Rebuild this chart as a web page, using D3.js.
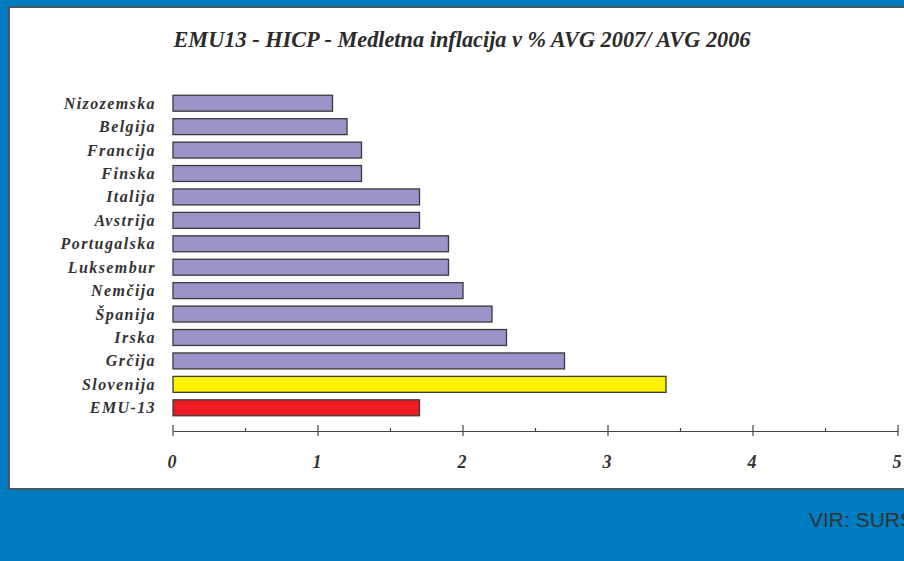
<!DOCTYPE html>
<html>
<head>
<meta charset="utf-8">
<script src="https://d3js.org/d3.v7.min.js"></script>
<style>
  html, body { margin: 0; padding: 0; background: #007cc3; }
  svg { display: block; }
</style>
</head>
<body>
<div id="chart"></div>
<script>
// Podatki: države in medletna inflacija (%)
const countries = ["Nizozemska", "Belgija", "Francija", "Finska", "Italija", "Avstrija",
  "Portugalska", "Luksembur", "Nemčija", "Španija", "Irska", "Grčija", "Slovenija", "EMU-13"];
const values = [1.1, 1.2, 1.3, 1.3, 1.7, 1.7, 1.9, 1.9, 2.0, 2.2, 2.3, 2.7, 3.4, 1.7];
const xTicks = [0, 1, 2, 3, 4, 5];

const width = 904, height = 561;
const serif = "'Liberation Serif', 'Times New Roman', serif";

const svg = d3.select("#chart").append("svg")
  .attr("width", width)
  .attr("height", height);

// ozadje
svg.append("rect").attr("width", width).attr("height", height).attr("fill", "#007cc3");

// bela plošča
svg.append("rect")
  .attr("x", 9).attr("y", 7)
  .attr("width", 910).attr("height", 482)
  .attr("fill", "#fff")
  .attr("stroke", "#4a5560")
  .attr("stroke-width", 2);

svg.append("text")
  .attr("x", 462).attr("y", 47)
  .attr("text-anchor", "middle")
  .style("font-family", serif)
  .style("font-style", "italic")
  .style("font-weight", "bold")
  .style("font-size", "22.3px")
  .style("fill", "#2b2b2b")
  .text("EMU13 - HICP - Medletna inflacija v % AVG 2007/ AVG 2006");

const x = d3.scaleLinear().domain([0, 5]).range([173, 898]);
const y = d3.scaleBand().domain(countries).range([91.5, 419.5]).paddingInner(0.32).paddingOuter(0.16);

const barColor = d => d === "Slovenija" ? "#fff200" : d === "EMU-13" ? "#ed1c24" : "#9b94c8";

svg.selectAll(".bar")
  .data(countries).enter().append("rect")
  .attr("class", "bar")
  .attr("x", x(0))
  .attr("y", d => y(d))
  .attr("width", (d, i) => x(values[i]) - x(0))
  .attr("height", y.bandwidth())
  .attr("fill", barColor)
  .attr("stroke", "#3a3a3a")
  .attr("stroke-width", 1.3);

// imena držav
svg.selectAll(".lab")
  .data(countries).enter().append("text")
  .attr("class", "lab")
  .attr("x", 156)
  .attr("y", d => y(d) + y.bandwidth() / 2 + 5.5)
  .attr("text-anchor", "end")
  .style("font-family", serif)
  .style("font-style", "italic")
  .style("font-weight", "bold")
  .style("font-size", "16px")
  .style("letter-spacing", "1.4px")
  .style("fill", "#333")
  .text(d => d);

// os x
const axisY = 431;
const axis = svg.append("g")
  .attr("transform", `translate(0,${axisY})`)
  .call(d3.axisBottom(x).tickValues(d3.range(0, 5.01, 0.5)).tickSize(0).tickFormat(""));
axis.select(".domain").attr("stroke", "#444").attr("stroke-width", 1.2);

svg.selectAll(".tk")
  .data(d3.range(0, 5.01, 0.5)).enter().append("line")
  .attr("x1", d => x(d)).attr("x2", d => x(d))
  .attr("y1", d => Number.isInteger(d) ? axisY - 6 : axisY - 3)
  .attr("y2", d => Number.isInteger(d) ? axisY + 5 : axisY)
  .attr("stroke", "#444")
  .attr("stroke-width", 1.2);

svg.selectAll(".tl")
  .data(xTicks).enter().append("text")
  .attr("x", d => x(d) - 1)
  .attr("y", 468)
  .attr("text-anchor", "middle")
  .style("font-family", serif)
  .style("font-style", "italic")
  .style("font-weight", "bold")
  .style("font-size", "18px")
  .style("fill", "#333")
  .text(d => d);

// vir (v izvirniku odrezan ob desnem robu)
svg.append("text")
  .attr("x", 809).attr("y", 527)
  .style("font-family", "'Liberation Sans', Arial, sans-serif")
  .style("font-size", "21px")
  .style("fill", "#333")
  .text("VIR: SURS");
</script>
</body>
</html>
